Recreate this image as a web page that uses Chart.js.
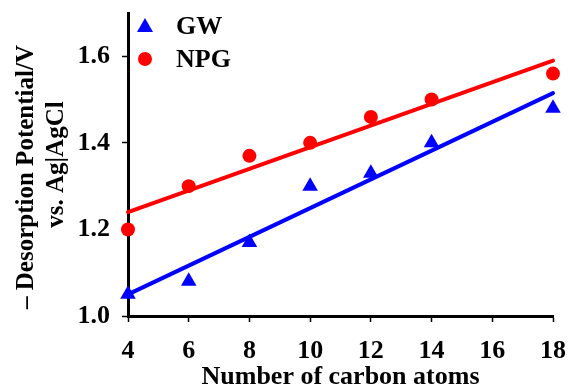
<!DOCTYPE html>
<html>
<head>
<meta charset="utf-8">
<script src="https://cdn.jsdelivr.net/npm/chart.js@4"></script>
<style>
html,body{margin:0;padding:0;background:#fff;}
#c{display:block;}
</style>
</head>
<body>
<canvas id="c" width="569" height="390"></canvas>
<script>
const carbonAtoms = [4, 6, 8, 10, 12, 14, 18];
const gwValues = [1.05, 1.08, 1.17, 1.30, 1.33, 1.40, 1.48];
const npgValues = [1.20, 1.30, 1.37, 1.40, 1.46, 1.50, 1.56];
const fitX = [4, 18];
const gwFit = [1.05, 1.515];
const npgFit = [1.24, 1.59];
const xTicks = [4, 6, 8, 10, 12, 14, 16, 18];
const yTicks = [1.0, 1.2, 1.4, 1.6];
const seriesNames = ['GW', 'NPG'];

const FONT = '"Liberation Serif", "Times New Roman", serif';
const toPts = (xs, ys) => xs.map((x, i) => ({x: x, y: ys[i]}));

const legendPlugin = {
  id: 'insideLegend',
  afterDatasetsDraw(chart) {
    const ctx = chart.ctx;
    const items = [
      {name: seriesNames[0], style: 'triangle', color: '#0000ff'},
      {name: seriesNames[1], style: 'circle', color: '#ff0000'}
    ];
    ctx.save();
    items.forEach((it, i) => {
      const y = 26 + i * 33;
      ctx.fillStyle = it.color;
      ctx.beginPath();
      if (it.style === 'circle') { ctx.arc(145, y, 7, 0, Math.PI * 2); }
      else { ctx.moveTo(145, y - 8); ctx.lineTo(153, y + 6); ctx.lineTo(137, y + 6); ctx.closePath(); }
      ctx.fill();
      ctx.fillStyle = '#000';
      ctx.font = 'bold 26px ' + FONT;
      ctx.textBaseline = 'middle';
      ctx.fillText(it.name, 176, y + 1);
    });
    ctx.restore();
  }
};

new Chart(document.getElementById('c'), {
  type: 'scatter',
  data: {
    datasets: [
      {label: seriesNames[0] + ' fit', data: toPts(fitX, gwFit), showLine: true, borderColor: '#0000ff', borderWidth: 4, pointRadius: 0, borderCapStyle: 'round', order: 2},
      {label: seriesNames[1] + ' fit', data: toPts(fitX, npgFit), showLine: true, borderColor: '#ff0000', borderWidth: 4, pointRadius: 0, borderCapStyle: 'round', order: 2},
      {label: seriesNames[0], data: toPts(carbonAtoms, gwValues), pointStyle: 'triangle', pointRadius: 9, backgroundColor: '#0000ff', borderColor: '#0000ff', borderWidth: 0, order: 1},
      {label: seriesNames[1], data: toPts(carbonAtoms, npgValues), pointStyle: 'circle', pointRadius: 7, backgroundColor: '#ff0000', borderColor: '#ff0000', borderWidth: 0, order: 1}
    ]
  },
  options: {
    responsive: false,
    animation: false,
    devicePixelRatio: 1,
    clip: false,
    layout: {padding: {top: 13, right: 0, left: 0, bottom: 0}},
    plugins: {legend: {display: false}, tooltip: {enabled: false}},
    scales: {
      x: {
        type: 'linear', min: 4, max: 18,
        afterBuildTicks: s => { s.ticks = xTicks.map(v => ({value: v})); },
        afterFit: s => { s.height = 74; s.paddingRight = 16; s.paddingLeft = 0; },
        grid: {display: true, drawOnChartArea: false, drawTicks: true, tickLength: 6, tickWidth: 1.5, color: '#000'},
        border: {display: true, color: '#000', width: 3},
        ticks: {color: '#000', font: {family: FONT, size: 26, weight: 'bold'}, padding: 14, maxRotation: 0},
        title: {display: true, text: 'Number of carbon atoms', color: '#000', font: {family: FONT, size: 26, weight: 'bold'}, padding: {top: 0, bottom: -3}}
      },
      y: {
        type: 'linear', min: 1.0, max: 1.7,
        afterBuildTicks: s => { s.ticks = yTicks.map(v => ({value: v})); },
        afterFit: s => { s.width = 128; s.paddingTop = 0; s.paddingBottom = 0; },
        grid: {display: true, drawOnChartArea: false, drawTicks: true, tickLength: 6, tickWidth: 1.5, color: '#000'},
        border: {display: true, color: '#000', width: 3},
        ticks: {color: '#000', font: {family: FONT, size: 26, weight: 'bold'}, padding: 12, callback: v => v.toFixed(1)},
        title: {display: true, text: ['– Desorption Potential/V\u2003', 'vs. Ag|AgCl'], color: '#000', font: {family: FONT, size: 25, weight: 'bold', lineHeight: 1.2}, padding: {top: 12, bottom: 0}}
      }
    }
  },
  plugins: [legendPlugin]
});
</script>
</body>
</html>
